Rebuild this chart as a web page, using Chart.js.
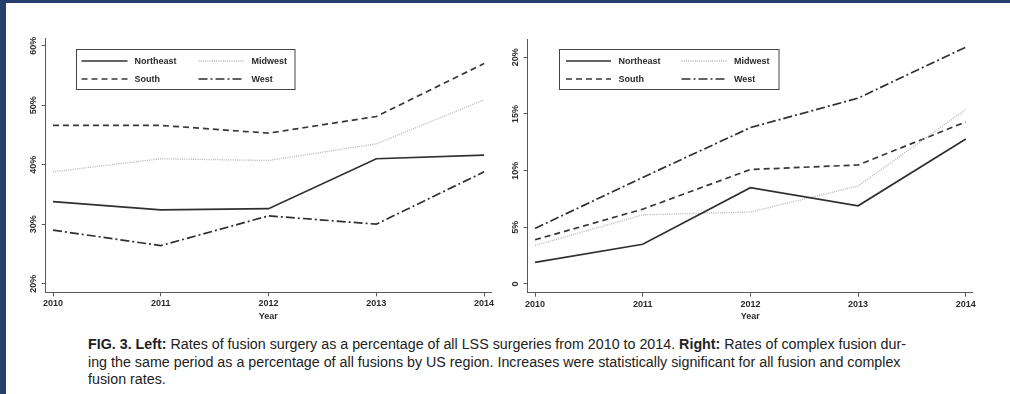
<!DOCTYPE html>
<html>
<head>
<meta charset="utf-8">
<script src="https://cdn.jsdelivr.net/npm/chart.js@4.4.1/dist/chart.umd.min.js"></script>
<style>
  html, body { margin: 0; padding: 0; }
  body { width: 1010px; height: 394px; background: #fff; position: relative; overflow: hidden; }
  .edge { position: absolute; background: #26406b; }
  canvas { position: absolute; top: 0; }
  .caption {
    position: absolute; left: 88px; top: 336px;
    font-family: "Liberation Sans", Arial, sans-serif;
    font-size: 14px; line-height: 17.5px; color: #222; white-space: nowrap;
    transform-origin: 0 0;
  }
  .caption div { display: block; width: max-content; }
  .caption b { font-weight: bold; }
</style>
</head>
<body>
<div class="edge" style="left:0;top:0;width:1010px;height:3px"></div>
<div class="edge" style="left:0;top:0;width:6px;height:394px"></div>

<canvas id="fusionChart" width="505" height="330" style="left:0"></canvas>
<canvas id="complexChart" width="510" height="330" style="left:500px"></canvas>

<div class="caption" id="caption">
  <div id="captionFirst"><b>FIG. 3. Left:</b> Rates of fusion surgery as a percentage of all LSS surgeries from 2010 to 2014. <b>Right:</b> Rates of complex fusion dur-</div>
  <div>ing the same period as a percentage of all fusions by US region. Increases were statistically significant for all fusion and complex</div>
  <div>fusion rates.</div>
</div>

<script>
// Survey years and regions
const years = [2010, 2011, 2012, 2013, 2014];
const regions = ['Northeast', 'Midwest', 'South', 'West'];

// Fusion surgery as % of all LSS surgeries
const fusionNortheast = [33.8, 32.4, 32.6, 41.0, 41.6];
const fusionMidwest   = [38.8, 41.0, 40.7, 43.5, 50.9];
const fusionSouth     = [46.6, 46.6, 45.3, 48.1, 57.0];
const fusionWest      = [29.0, 26.4, 31.4, 30.0, 38.8];

// Complex fusion as % of all fusions
const complexNortheast = [1.9, 3.5, 8.5, 6.9, 12.8];
const complexMidwest   = [3.4, 6.1, 6.35, 8.65, 15.4];
const complexSouth     = [3.9, 6.6, 10.1, 10.5, 14.3];
const complexWest      = [4.9, 9.4, 13.8, 16.4, 20.9];

// Axis ticks
const fusionTicks = [20, 30, 40, 50, 60];
const fusionTickLabels = ['20%', '30%', '40%', '50%', '60%'];
const complexTicks = [0, 5, 10, 15, 20];
const complexTickLabels = ['0', '5%', '10%', '15%', '20%'];
const xAxisTitle = 'Year';

const AXIS = '#5a5a5a';
const TICK_FONT = { family: '"Liberation Sans", Arial, sans-serif', size: 9, weight: 'bold' };

// Condensed caption set to the width of the figure's text column
const CAPTION_WIDTH = 818;
(function fitCaption() {
  const cap = document.getElementById('caption');
  const natural = document.getElementById('captionFirst').getBoundingClientRect().width;
  if (natural > 0) cap.style.transform = 'scaleX(' + (CAPTION_WIDTH / natural) + ')';
})();

// Line style per region
const regionStyle = {
  Northeast: { borderColor: '#303030', borderWidth: 1.7, borderDash: [] },
  Midwest:   { borderColor: '#b4b4b4', borderWidth: 1.3, borderDash: [1, 1.2] },
  South:     { borderColor: '#383838', borderWidth: 1.7, borderDash: [6, 4] },
  West:      { borderColor: '#303030', borderWidth: 1.7, borderDash: [9, 3, 2, 3] }
};

function series(values) {
  return values.map((v, i) => ({ x: years[i], y: v }));
}

function buildDatasets(valueSets) {
  return regions.map((name, i) => Object.assign({
    label: name,
    data: series(valueSets[i]),
    pointRadius: 0,
    tension: 0,
    fill: false
  }, regionStyle[name]));
}

// Boxed two-column legend drawn inside the plot region
const boxLegend = {
  id: 'boxLegend',
  afterDraw(chart, args, opts) {
    const ctx = chart.ctx;
    ctx.save();
    ctx.strokeStyle = '#444';
    ctx.lineWidth = 1;
    ctx.setLineDash([]);
    ctx.strokeRect(opts.x, opts.y, opts.w, opts.h);
    ctx.font = 'bold 9px "Liberation Sans", Arial, sans-serif';
    ctx.fillStyle = '#2a2a2a';
    ctx.textBaseline = 'middle';
    chart.data.datasets.forEach((ds, i) => {
      const col = i % 2, row = Math.floor(i / 2);
      const sx = opts.x + opts.colOffsets[col];
      const sy = opts.y + opts.rowOffsets[row];
      ctx.save();
      ctx.strokeStyle = ds.borderColor;
      ctx.lineWidth = ds.borderWidth;
      ctx.setLineDash(ds.borderDash || []);
      ctx.beginPath();
      ctx.moveTo(sx, sy);
      ctx.lineTo(sx + opts.sampleLength, sy);
      ctx.stroke();
      ctx.restore();
      ctx.fillText(ds.label, sx + opts.textOffset, sy + 0.5);
    });
    ctx.restore();
  }
};

function makeChart(canvasId, datasets, cfg) {
  return new Chart(document.getElementById(canvasId), {
    type: 'line',
    data: { datasets },
    plugins: [boxLegend],
    options: {
      responsive: false,
      animation: false,
      devicePixelRatio: 1,
      layout: { padding: cfg.padding },
      plugins: {
        legend: { display: false },
        tooltip: { enabled: false },
        boxLegend: cfg.legend
      },
      scales: {
        x: {
          type: 'linear',
          min: 2009.932,
          max: 2014.064,
          afterBuildTicks: (scale) => { scale.ticks = years.map(v => ({ value: v })); },
          afterFit: (scale) => { scale.height = cfg.xHeight; },
          border: { display: true, color: AXIS, width: 1 },
          grid: { display: true, drawOnChartArea: false, drawTicks: true, tickLength: 4, color: AXIS },
          ticks: {
            color: '#2a2a2a', font: TICK_FONT, padding: 2, maxRotation: 0,
            callback: (v) => String(v)
          },
          title: {
            display: true, text: xAxisTitle, color: '#2a2a2a',
            font: TICK_FONT, padding: { top: 0, bottom: 8 }
          }
        },
        y: {
          type: 'linear',
          min: cfg.yMin,
          max: cfg.yMax,
          afterBuildTicks: (scale) => { scale.ticks = cfg.ticks.map(v => ({ value: v })); },
          afterFit: (scale) => { scale.width = cfg.yWidth; },
          border: { display: true, color: AXIS, width: 1 },
          grid: { display: true, drawOnChartArea: false, drawTicks: true, tickLength: 4, color: AXIS },
          ticks: {
            color: '#2a2a2a', font: TICK_FONT, padding: cfg.yLabelPad,
            minRotation: 90, maxRotation: 90, crossAlign: 'center',
            callback: (v) => cfg.tickLabels[cfg.ticks.indexOf(v)]
          }
        }
      }
    }
  });
}

makeChart('fusionChart',
  buildDatasets([fusionNortheast, fusionMidwest, fusionSouth, fusionWest]),
  {
    padding: { left: 0, top: 38, right: 14, bottom: 0 },
    yWidth: 45.7, xHeight: 37.7,
    yMin: 18.555, yMax: 61.29,
    ticks: fusionTicks, tickLabels: fusionTickLabels, yLabelPad: -1,
    legend: { x: 76.5, y: 49.5, w: 218.5, h: 40, colOffsets: [5, 122], rowOffsets: [11.5, 29.5], sampleLength: 46, textOffset: 53 }
  });

makeChart('complexChart',
  buildDatasets([complexNortheast, complexMidwest, complexSouth, complexWest]),
  {
    padding: { left: 0, top: 39.3, right: 37.3, bottom: 0 },
    yWidth: 27.7, xHeight: 37.3,
    yMin: -0.77, yMax: 21.59,
    ticks: complexTicks, tickLabels: complexTickLabels, yLabelPad: -1,
    legend: { x: 59.5, y: 49.5, w: 219.5, h: 40, colOffsets: [6.5, 122], rowOffsets: [11.5, 29.5], sampleLength: 45, textOffset: 52.5 }
  });
</script>
</body>
</html>
